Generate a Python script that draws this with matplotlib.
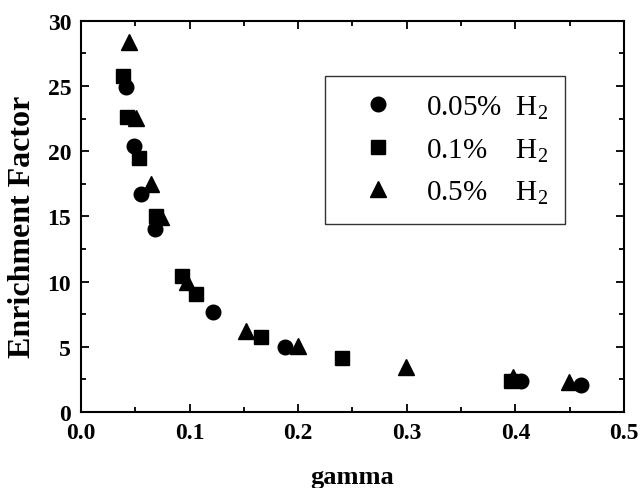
import matplotlib.pyplot as plt
from matplotlib.ticker import MultipleLocator

# Enrichment factor vs gamma for three H2 concentrations
gamma_005 = [0.0417, 0.0493, 0.0554, 0.0684, 0.1214, 0.1877, 0.405, 0.460]
ef_005 = [24.96, 20.41, 16.70, 14.02, 7.64, 4.96, 2.40, 2.07]

gamma_01 = [0.0386, 0.0429, 0.0532, 0.0691, 0.0933, 0.1056, 0.1658, 0.2402, 0.396]
ef_01 = [25.77, 22.6, 19.5, 15.04, 10.44, 9.04, 5.72, 4.14, 2.40]

gamma_05 = [0.0447, 0.0508, 0.0645, 0.0736, 0.0979, 0.1517, 0.1998, 0.2995, 0.3975, 0.4492]
ef_05 = [28.35, 22.58, 17.47, 14.94, 9.94, 6.23, 5.08, 3.43, 2.66, 2.28]

labels = ['0.05%  H$_2$', '0.1%    H$_2$', '0.5%    H$_2$']

plt.rcParams['font.family'] = 'Liberation Serif'
plt.rcParams['mathtext.fontset'] = 'custom'
plt.rcParams['mathtext.rm'] = 'Liberation Serif'

fig = plt.figure(figsize=(6.42, 4.89), dpi=100)
ax = fig.add_axes([0.126, 0.1554, 0.846, 0.800])

# the three series, all solid black markers
ax.plot(gamma_005, ef_005, 'ko', markersize=10.5, label=labels[0])
ax.plot(gamma_01, ef_01, 'ks', markersize=9.5, label=labels[1])
ax.plot(gamma_05, ef_05, 'k^', markersize=11.5, label=labels[2])

ax.set_xlim(0, 0.5)
ax.set_ylim(0, 30)
ax.xaxis.set_major_locator(MultipleLocator(0.1))
ax.xaxis.set_minor_locator(MultipleLocator(0.05))
ax.yaxis.set_major_locator(MultipleLocator(5))
ax.yaxis.set_minor_locator(MultipleLocator(2.5))
ax.xaxis.set_major_formatter(plt.FormatStrFormatter('%.1f'))

# inward ticks on all four sides
ax.tick_params(which='both', direction='in', top=True, right=True, width=1.3)
ax.tick_params(which='major', length=6, pad=7, labelsize=17)
ax.tick_params(which='minor', length=3.5)
for lbl in ax.get_xticklabels() + ax.get_yticklabels():
    lbl.set_fontweight('bold')
for sp in ax.spines.values():
    sp.set_linewidth(1.5)

ax.set_xlabel('gamma', fontsize=19, fontweight='bold', labelpad=16)
ax.set_ylabel('Enrichment Factor', fontsize=23, fontweight='bold')
ax.yaxis.set_label_coords(-0.08, 0.475)

leg = ax.legend(loc='upper left', bbox_to_anchor=(325 / 642, 1 - 77 / 489),
                bbox_transform=fig.transFigure, fontsize=21, numpoints=1,
                frameon=True, fancybox=False, edgecolor='black',
                handlelength=2.4, handletextpad=0.45, labelspacing=0.5,
                borderpad=0.6, borderaxespad=0)
leg.get_frame().set_linewidth(1.0)

plt.savefig('out.png', dpi=100)
